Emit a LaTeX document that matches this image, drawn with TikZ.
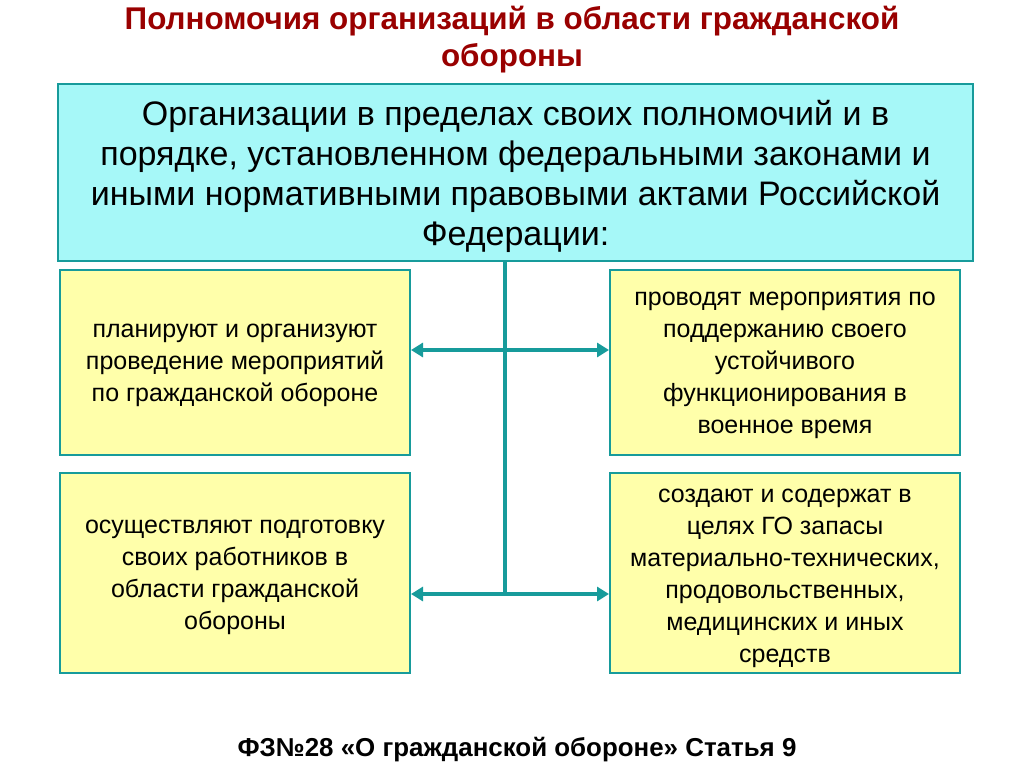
\documentclass[tikz,border=0pt]{standalone}
\usepackage{fontspec}
\setmainfont{Liberation Sans}
\usetikzlibrary{arrows.meta}
\definecolor{teal1}{HTML}{179B9B}
\definecolor{cyanfill}{HTML}{A6F8F8}
\definecolor{yel}{HTML}{FFFFAA}
\definecolor{titlered}{HTML}{990000}
\tikzset{
  topbox/.style={draw=teal1, line width=1.5pt, fill=cyanfill},
  subbox/.style={draw=teal1, line width=1.5pt, fill=yel},
  conn/.style={draw=teal1, line width=4pt},
  arr/.style={conn, {Triangle[length=12pt,width=14pt]}-{Triangle[length=12pt,width=14pt]}},
  bigtxt/.style={font=\fontsize{34}{40}\selectfont, align=center},
  smalltxt/.style={font=\fontsize{25}{32}\selectfont, align=center},
}
\begin{document}
\begin{tikzpicture}[x=1pt,y=-1pt]
\useasboundingbox (0,0) rectangle (1024,767);
\node[font=\fontsize{31.4}{37}\selectfont\bfseries, text=titlered, align=center] (title) at (512,40)
 {Полномочия организаций в области гражданской\\обороны};
\draw[topbox] (58,84) rectangle (973,261);
\node[bigtxt] (top) at (515.5,176) {Организации в пределах своих полномочий и в\\порядке, установленном федеральными законами и\\иными нормативными правовыми актами Российской\\Федерации:};
\coordinate (topb) at (505,261);
\draw[subbox] (60,270) rectangle (410,455);
\node[smalltxt] (lt) at (235,365) {планируют и организуют\\проведение мероприятий\\по гражданской обороне};
\draw[subbox] (610,270) rectangle (960,455);
\node[smalltxt] (rt) at (785,365) {проводят мероприятия по\\поддержанию своего\\устойчивого\\функционирования в\\военное время};
\draw[subbox] (60,473) rectangle (410,673);
\node[smalltxt] (lb) at (235,577) {осуществляют подготовку\\своих работников в\\области гражданской\\обороны};
\draw[subbox] (610,473) rectangle (960,673);
\node[smalltxt] (rb) at (785,578) {создают и содержат в\\целях ГО запасы\\материально-технических,\\продовольственных,\\медицинских и иных\\средств};
\coordinate (j1) at (505,350);
\coordinate (j2) at (505,594);
\coordinate (a1l) at (411,350);
\coordinate (a1r) at (609,350);
\coordinate (a2l) at (411,594);
\coordinate (a2r) at (609,594);
\draw[conn] (topb) -- (j2);
\draw[arr] (a1l) -- (a1r);
\draw[arr] (a2l) -- (a2r);
\node[font=\fontsize{25.9}{28}\selectfont\bfseries] (foot) at (517,750) {ФЗ№28 «О гражданской обороне» Статья 9};
\end{tikzpicture}
\end{document}
